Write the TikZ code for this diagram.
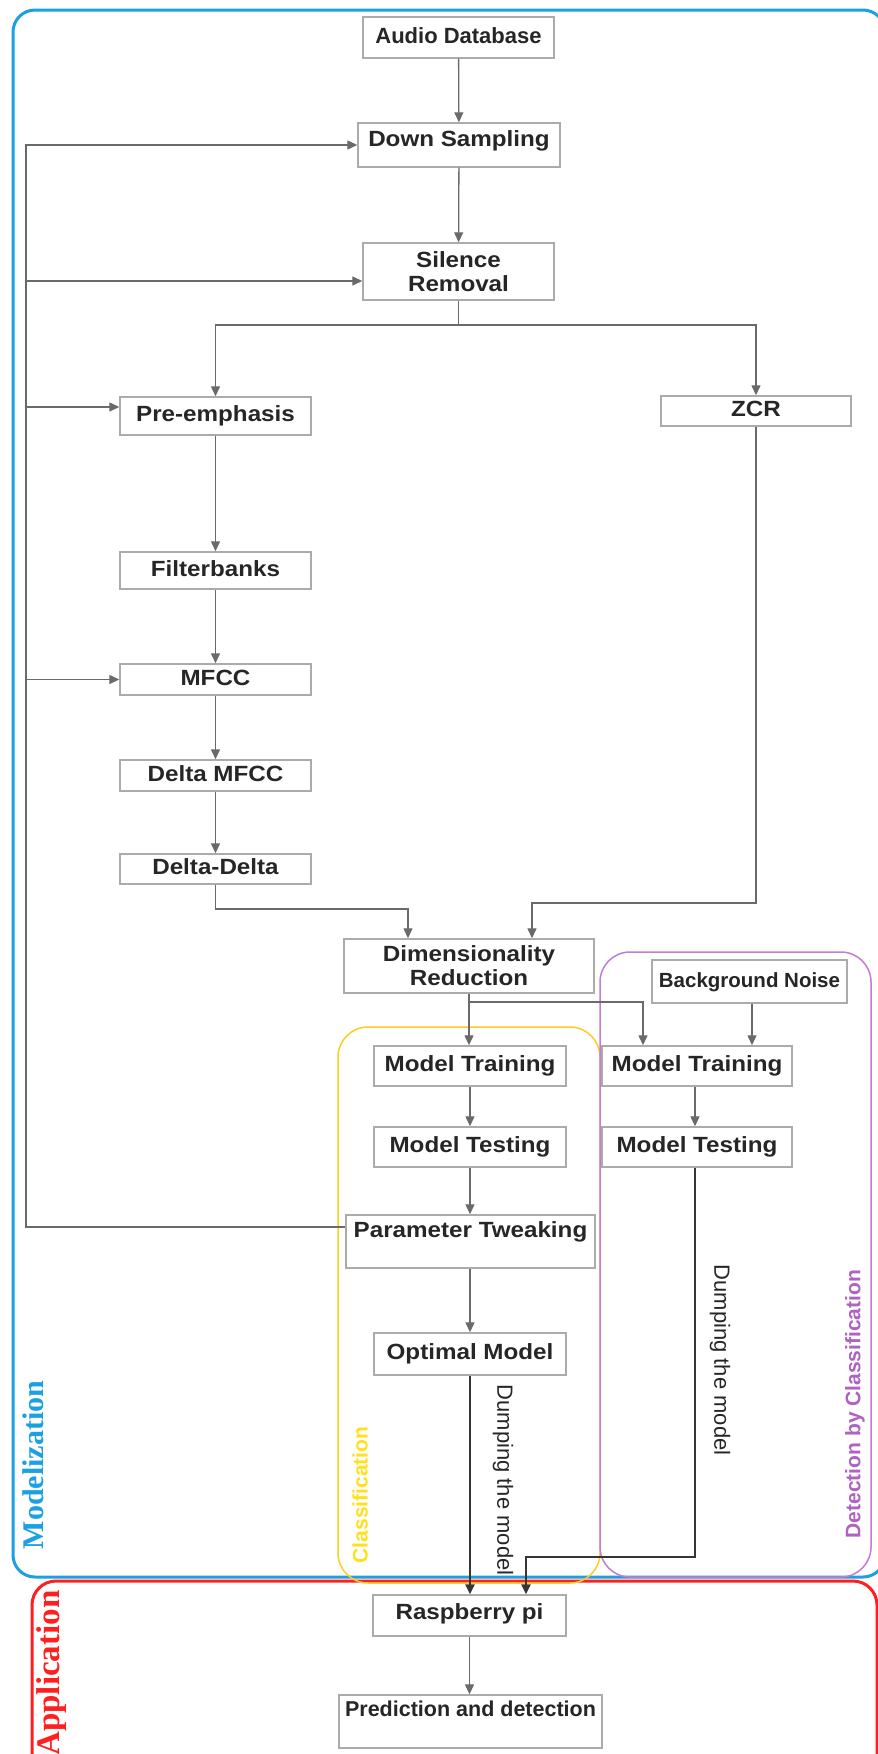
\documentclass[tikz,border=0pt]{standalone}
\usepackage{fontspec}
\setmainfont{Liberation Sans}
\newfontfamily\bxs{Liberation Sans}[FakeStretch=1.1]
\newfontfamily\bxn{Liberation Sans}
\newfontfamily\serifbold{Liberation Serif}
\usetikzlibrary{arrows.meta}

\definecolor{modblue}{HTML}{1BA1E2}
\definecolor{appred}{HTML}{FF1F1F}
\definecolor{clsyellow}{HTML}{FFCC22}
\definecolor{clstext}{HTML}{FFE01A}
\definecolor{detpurple}{HTML}{C27CD2}
\definecolor{dettext}{HTML}{B062C4}
\definecolor{boxgray}{HTML}{ABABAB}
\definecolor{arrgray}{HTML}{6A6A6A}
\definecolor{dumpgray}{HTML}{363636}
\definecolor{txt}{HTML}{262626}

\tikzset{
  boxbase/.style={draw=boxgray, line width=1.4pt, fill=white, inner sep=0pt,
    text=txt, align=center, font=\bxs\bfseries\fontsize{22}{24}\selectfont},
  box/.style={boxbase, text height=16pt, text depth=5pt},
  flow/.style={draw=arrgray, line width=1.3pt, -{Triangle[length=10pt,width=9pt]}},
  flowline/.style={draw=arrgray, line width=1.3pt},
  dump/.style={draw=dumpgray, line width=2.4pt, -{Triangle[length=10pt,width=9pt]}},
  group/.style={rounded corners=#1, fill=none},
  dumplabel/.style={rotate=-90, text=txt, inner sep=0pt,
    font=\bxn\fontsize{22}{24}\selectfont}
}

\begin{document}
\begin{tikzpicture}[x=1pt, y=-1pt]
\useasboundingbox (0,0) rectangle (878,1754);
\clip (0,0) rectangle (878,1754);
\fill[white] (0,0) rectangle (878,1754);

% stage frames
\draw[group=24pt, draw=appred, line width=3pt] (32,1581) rectangle (877,1790);
\draw[group=22pt, draw=modblue, line width=3pt] (13,10) rectangle (885,1577);
\draw[group=30pt, draw=clsyellow, line width=1.5pt] (338,1027) rectangle (600,1583);
\draw[group=30pt, draw=detpurple, line width=1.5pt] (600,952) rectangle (871,1577);

% processing steps
\node[box, minimum width=191pt, minimum height=41pt,
      font=\bxn\bfseries\fontsize{22}{24}\selectfont] (audio) at (458.5,37.5) {Audio Database};
\node[box, minimum width=202pt, minimum height=44pt, text depth=13pt] (down) at (459,145) {Down Sampling};
\node[boxbase, minimum width=191pt, minimum height=57pt] (silence) at (458.5,271.5) {Silence\\Removal};
\node[box, minimum width=191pt, minimum height=38pt] (pre) at (215.5,416) {Pre-emphasis};
\node[box, minimum width=190pt, minimum height=30pt] (zcr) at (756,411) {ZCR};
\node[box, minimum width=191pt, minimum height=37pt] (filter) at (215.5,570.5) {Filterbanks};
\node[box, minimum width=191pt, minimum height=31pt] (mfcc) at (215.5,679.5) {MFCC};
\node[box, minimum width=191pt, minimum height=31pt] (dmfcc) at (215.5,775.5) {Delta MFCC};
\node[box, minimum width=191pt, minimum height=30pt] (dd) at (215.5,869) {Delta-Delta};
\node[boxbase, minimum width=250pt, minimum height=54pt] (dim) at (469,966) {Dimensionality\\Reduction};
\node[box, minimum width=195pt, minimum height=43pt,
      font=\bxn\bfseries\fontsize{20.5}{24}\selectfont] (bg) at (749.5,981.5) {Background Noise};
\node[box, minimum width=192pt, minimum height=40pt] (mt1) at (470,1066) {Model Training};
\node[box, minimum width=190pt, minimum height=40pt] (mt2) at (697,1066) {Model Training};
\node[box, minimum width=192pt, minimum height=40pt] (ts1) at (470,1147) {Model Testing};
\node[box, minimum width=190pt, minimum height=40pt] (ts2) at (697,1147) {Model Testing};
\node[box, minimum width=249pt, minimum height=53pt, text depth=25pt] (param) at (470.5,1241.5) {Parameter Tweaking};
\node[box, minimum width=192pt, minimum height=42pt] (opt) at (470,1354) {Optimal Model};
\node[box, minimum width=193pt, minimum height=41pt, text depth=9pt] (rasp) at (469.5,1615.5) {Raspberry pi};
\node[box, minimum width=263pt, minimum height=53pt, text depth=27pt,
      font=\bxn\bfseries\fontsize{21.5}{24}\selectfont] (pred) at (470.5,1721.5) {Prediction and detection};

% junction points
\coordinate (split) at (458.5,325);
\coordinate (ddj) at (215.5,909);
\coordinate (zcrj) at (756,903);
\coordinate (dsplit) at (469,1002);
\coordinate (jn) at (600,1557);
\coordinate (rail) at (26,0);

% main chain
\draw[flow] (audio) -- (down);
\draw[flow] (down) -- (silence);
\draw[flowline] (silence.south) -- (split);
\draw[flow] (split) -| (pre.north);
\draw[flow] (split) -| (zcr.north);
\draw[flow] (pre) -- (filter);
\draw[flow] (filter) -- (mfcc);
\draw[flow] (mfcc) -- (dmfcc);
\draw[flow] (dmfcc) -- (dd);
\draw[flow] (dd.south) -- (ddj) -| ([xshift=-61pt]dim.north);
\draw[flow] (zcr.south) -- (zcrj) -| ([xshift=63pt]dim.north);
\draw[flow] (dim.south) -- (dim.south |- mt1.north);
\draw[flow] (dsplit) -| ([xshift=-54pt]mt2.north);
\draw[flow] ([xshift=2.5pt]bg.south) -- ([xshift=2.5pt]bg.south |- mt2.north);
\draw[flow] (mt1) -- (ts1);
\draw[flow] (ts1) -- (ts1.south |- param.north);
\draw[flow] (param.south -| opt.north) -- (opt.north);
\draw[flow] ([xshift=-2pt]mt2.south) -- ([xshift=-2pt]ts2.north);

% parameter feedback
\draw[flow] ([yshift=14.5pt]param.west) -| (rail |- down.west) -- (down.west);
\path ([yshift=-9.5pt]silence.west) coordinate (sw);
\path ([yshift=9pt]pre.west) coordinate (pw);
\draw[flow] (sw -| rail) -- (sw);
\draw[flow] (pw -| rail) -- (pw);
\draw[flow] (mfcc.west -| rail) -- (mfcc.west);

% deployment
\draw[dump] (opt.south) -- (opt.south |- rasp.north);
\draw[dump] ([xshift=-2pt]ts2.south) -- ([xshift=-2pt]ts2.south |- jn) -| ([xshift=56.5pt]rasp.north);
\draw[flow] (rasp) -- (rasp.south |- pred.north);

\node[dumplabel] (dump1) at (503,1480) {Dumping the model};
\node[dumplabel] (dump2) at (720,1360) {Dumping the model};

% frame titles
\node[rotate=90, text=modblue, inner sep=0pt,
      font=\serifbold\bfseries\fontsize{30}{32}\selectfont] (modlab) at (33,1465) {Modelization};
\node[rotate=90, text=appred, inner sep=0pt,
      font=\serifbold\bfseries\fontsize{33}{35}\selectfont] (applab) at (52,1673) {Application};
\node[rotate=90, text=clstext, inner sep=0pt,
      font=\bxn\bfseries\fontsize{21}{24}\selectfont] (clslab) at (360,1495) {Classification};
\node[rotate=90, text=dettext, inner sep=0pt,
      font=\bxn\bfseries\fontsize{21}{24}\selectfont] (detlab) at (855,1404) {Detection by Classification};
\end{tikzpicture}
\end{document}
